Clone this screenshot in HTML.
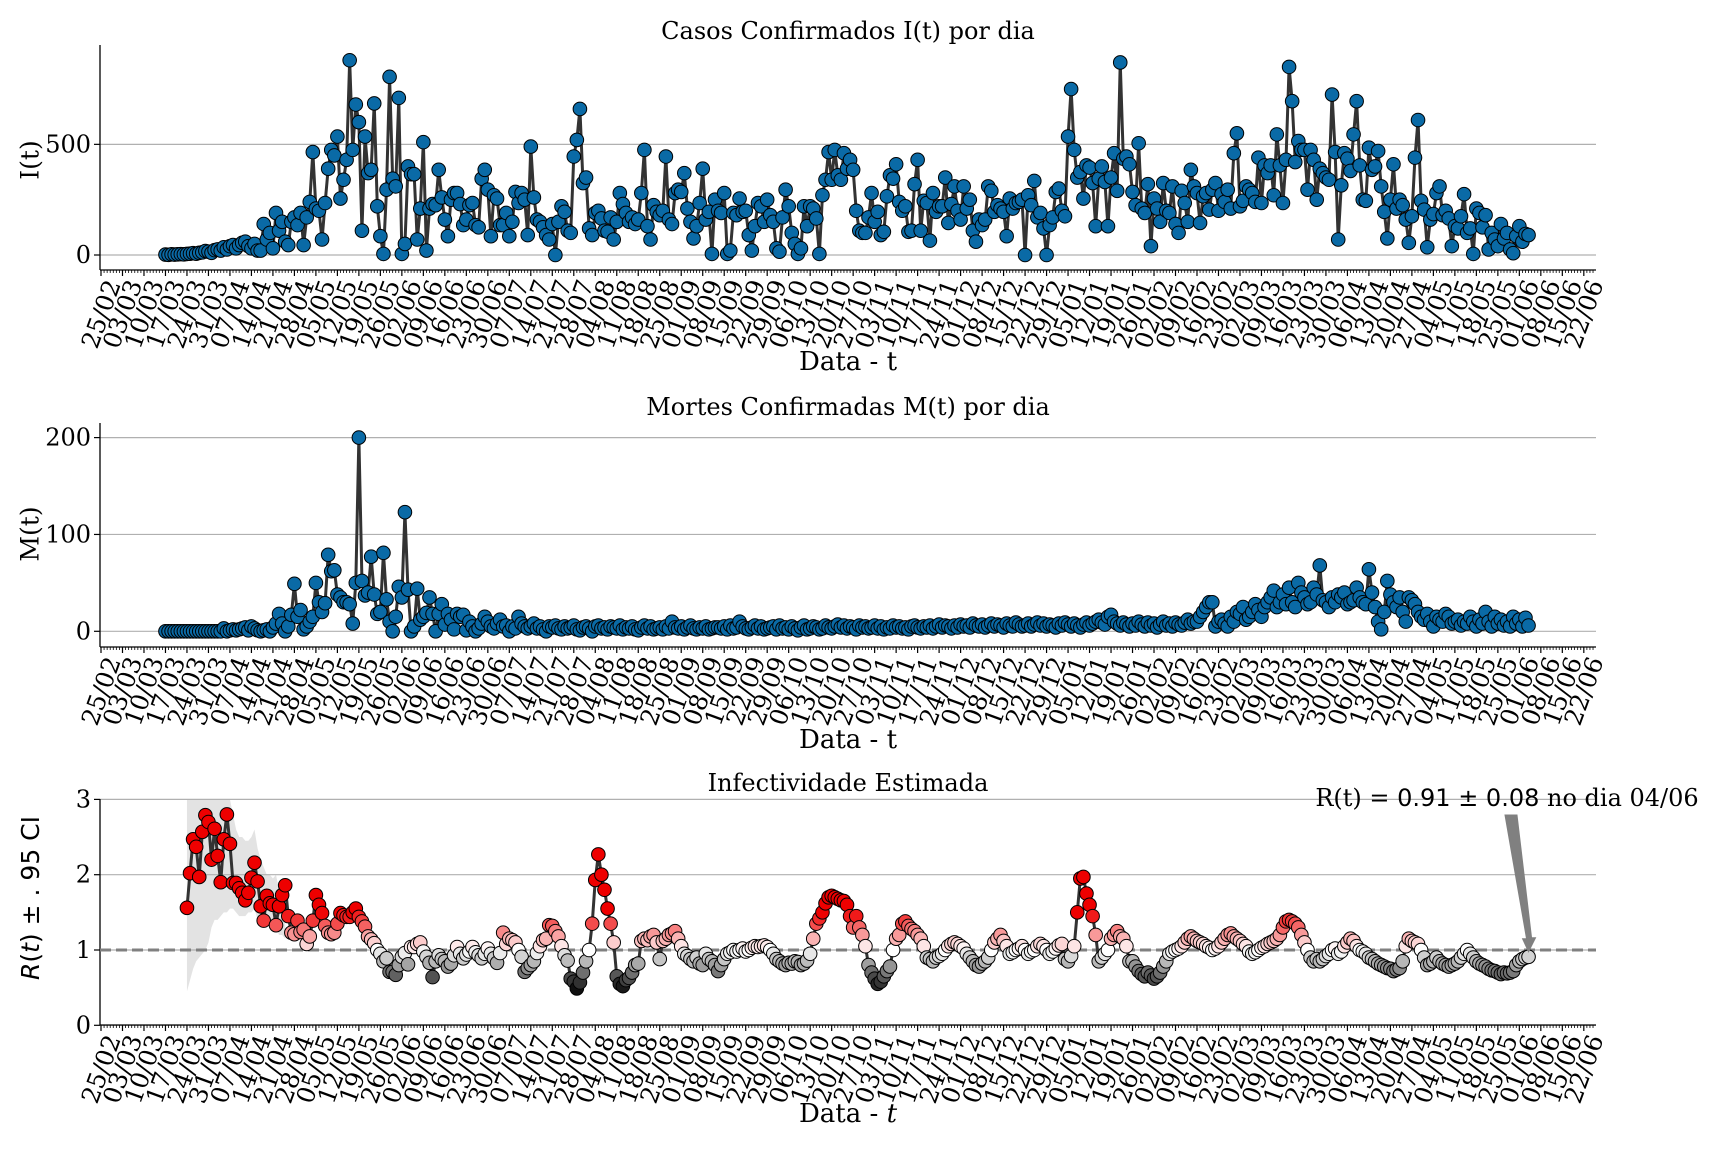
<!DOCTYPE html>
<html><head><meta charset="utf-8"><title>COVID chart</title>
<style>
html,body{margin:0;padding:0;background:#fff;}
svg{display:block;font-family:"DejaVu Serif","Liberation Serif",serif;}
</style></head>
<body>
<svg id="chart" width="1728" height="1152" viewBox="0 0 1728 1152" xmlns="http://www.w3.org/2000/svg">
<rect x="0" y="0" width="1728" height="1152" fill="#fff"/>
<g id="p1"></g>
<g id="p2"></g>
<g id="p3"></g>
</svg>
<script>
// ---------------- data ----------------
const baseDate = [2020, 1, 25];          // 25/02/2020 = day 0
const seriesStartDay = 21;               // 17/03/2020
const rStartDay = 28;                    // 24/03/2020
const ciStartDay = 28;

const casesValues = [
2,1,3,2,3,4,3,5,6,8, 6,10,12,18,15,10,22,25,20,35, 25,40,45,30,45,55,60,40,30,50,
20,20,140,70,100,30,190,110,150,60, 45,150,170,135,190,45,170,240,465,210, 200,70,235,390,475,450,535,255,340,430,
880,475,680,600,110,535,370,385,685,220, 85,5,295,805,345,310,710,5,50,400, 365,365,70,210,510,20,210,230,225,385, 260,
160,85,250,280,280,230,135,160,225,235, 135,125,345,385,295,85,270,255,135,135, 190,85,150,285,235,280,250,90,490,260,
160,150,125,90,70,140,0,150,220,195, 110,100,445,520,660,325,350,120,90,190, 200,165,110,105,170,70,150,280,230,190, 150,170,140,160,
280,475,
130,70,225,195,180,200,445,160,140,280, 295,285,370,210,150,75,130,235,390,160, 195,5,250,200,190,280,5,20,190,180,
255,195,200,90,20,130,235,220,150,250, 180,150, 30,15,170,295,220,100,50,5,30,220, 130,220,210,165,5,270,340,465,340,475,
360,340,460,390,430,385,200,110,100,100, 170,280,150,195,90,105,265,360,345,410, 240,200, 220,105,110,320,430,110,245,235,65,280,
195,220,220,350,145,230,310,200,160,310, 210,250,110,60,160,135,160,310,290,195, 225,210,195,85,255,210,235,240,250,0,
270,225,335,170,190,120,0,135,170,285, 300,200,175,535,750,475,350,375,255,405, 395,325,130,345,
400,330,130,350,460,290,870,435,445,410, 285,225,505,210,190,320,40,255,210,150, 325,200,190,310,140,100,290,235,150,385,
310,280,145,265,280,205,295,325,200,275, 240,295,210,460,550,220,245,310,295,280, 240,440,235,405,370,405,270,545,405,235,
430,850,695,420,515,475,475,295,475,430, 250,390,370,350,340,725,465,70,315,460, 435,380,545,695,405,250,245,485,385,400,
470,310,195,75,250,410,210,250,225,160, 55,175,440,610,245,205,35,160,185,280, 310,180,200,165,40,130,120,175,275,100,
120,5,210,190,125,180,25,100,70,40, 140,75,100,25,8,85,130,60,95,90
];

const deathsValues = [
0,0,0,0,0,0,0,0,0,0,0,0,0,0,0,0,0,0,0,3,0,1,2,1,2,3,4,1,5,3,1,0,1,2,
0,4,8,18,8,0,5,17,49,15,22,2,5,10,15,50,30,20,29,79,62,63,38,35,30,30,
28,8,50,200,52,37,40,77,38,18,20,81,33,10,0,15,46,35,123,43,0,5,44,12,15,19,35,18,0,18,
28,7,18,12,2,18,15,17,1,10,5,0,3,8,15,10,5,3,8,12,5,6,0,5,3,15,8,5,3,5,
8,3,5,2,0,5,4,6,3,2, 5,3,4,6,2,1,4,5,3,0, 5,6,3,4,2,5,4,3,6,2, 4,3,5,2,1,4,6,3,5,2, 3,4,2,5,3,10,4,3,5,2, 4,6,3,2,4,3,5,2,3,4,
4,3,5,2,6,3,4,10,5,3, 2,4,6,3,5,2,3,4,5,2, 6,3,4,2,5,3,1,4,6,2, 3,5,4,2,3,6,4,3,5,7, 4,6,3,5,4,2,6,4,5,3,
4,6,3,5,2,4,3,6,4,5, 3,4,2,5,6,4,3,5,4,6, 3,5,7,4,6,5,3,6,4,7, 5,6,4,8,6,5,7,4,6,8, 5,7,6,4,8,6,5,9,7,5,
6,8,5,7,9,6,8,5,7,6, 4,8,6,9,7,5,8,6,4,7, 9,6,8,10,12,9,7,15,17,10, 8,6,9,7,5,8,6,10,7,5, 9,6,8,4,7,10,6,8,5,9, 7,6,9,12,8,10,
10,15,20,25,30,30,5,10,12,8,5,15,10,20,18,25,12,15,20,28,22,15,25,30,
35,42,25,30,38,28,45,30,25,50, 40,35,28,30,45,38,68,32,30,25, 35,30,38,35,40,28,30,32,45,35, 30,28,64,40,25,10,2,20,52,38,
30,25,35,20,10,35,32,28,20,15, 12,18,10,5,15,12,10,18,15,8, 10,12,6,10,8,15,10,5,12,8, 20,10,5,15,8,12,6,10,5,15, 8,12,5,14,6
];

const rValues = [
1.56,2.02,2.47,2.37,1.97,2.57,2.79,2.70,2.20,2.61,
2.25,1.90,2.47,2.80,2.41,1.89,1.89,1.82,1.76,1.66,
1.76,1.96,2.16,1.91,1.58,1.39,1.72,1.62,1.60,1.33,
1.58,1.73,1.86,1.45,1.23,1.21,1.39,1.24,1.27,1.08,
1.18,1.39,1.73,1.60,1.49,1.32,1.23,1.21,1.23,1.35,
1.49,1.46,1.44,1.44,1.50,1.55,1.44,1.38,1.31,1.18,
1.14,1.09,1.00,0.95,0.85,0.89,0.71,0.71,0.67,0.80,
0.91,0.96,0.81,1.04,1.04,1.08,1.10,0.98,0.91,0.83,
0.64,0.85,0.93,0.88,0.85,0.78,0.82,0.93,1.04,0.95,
0.89,0.94,0.98,1.04,0.97,0.93,0.89,0.95,1.02,0.95,
0.89,0.83,0.96,1.23,1.08,1.15,1.13,1.10,1.00,0.91,
0.71,0.76,0.80,0.85,0.96,1.05,1.13,1.15,1.33,1.32,
1.25,1.18,1.05,0.93,0.86,0.62,0.58,0.49,0.57,0.70,
0.85,1.00,1.35,
1.93,2.27,2.00,1.80,1.55,1.35,1.10,
0.65,0.55,0.52,0.60,0.63,0.70,0.80,0.82,
1.12,1.15,1.13,1.18,1.20,1.10,0.88,1.12,1.15,1.20,
1.22,1.25,1.15,1.05,0.95,0.92,0.88,0.85,0.90,0.82,
0.80,0.95,0.88,0.85,0.80,0.72,0.80,0.88,0.95,0.97,
1.00,0.98,1.00,1.02,0.98,1.00,1.03,1.05,1.04,1.05,
1.06,1.04,1.00,0.95,0.88,0.85,0.82,0.80,0.83,0.82,
0.85,0.84,0.80,0.82,0.86,0.95,1.15,1.35,1.42,1.50,
1.62,1.70,1.72,1.70,1.68,1.66,1.65,1.60,1.45,1.30,
1.45,1.30,1.20,1.05,0.80,0.70,0.62,0.55,0.58,0.65,
0.72,0.78,1.00,1.15,1.20,1.35,1.38,1.32,1.28,1.25,
1.20,1.15,1.05,0.90,0.88,0.85,0.90,0.92,0.95,1.00,
1.05,1.08,1.10,1.08,1.05,1.02,0.95,0.90,0.85,0.80,
0.78,0.82,0.85,0.90,1.00,1.10,1.15,1.20,1.12,1.05,
0.95,0.97,1.00,1.02,1.05,1.00,0.95,0.98,1.00,1.05,
1.08,1.05,1.00,0.95,0.98,1.02,1.06,1.08,0.88,0.85,
0.92,1.05,1.50,1.95,1.97,1.75,1.60,1.45,1.20,0.85,
0.90,0.95,1.00,1.15,1.20,1.25,1.18,1.15,1.05,0.85,
0.85,0.78,0.72,0.68,0.65,0.70,0.66,0.62,0.65,0.70,
0.78,0.85,0.95,0.98,1.00,1.02,1.05,1.10,1.15,1.18,
1.15,1.12,1.10,1.08,1.05,1.03,1.00,1.02,1.05,1.10,
1.15,1.20,1.22,1.18,1.15,1.12,1.08,1.05,0.98,0.95,
0.97,1.00,1.03,1.05,1.08,1.10,1.12,1.15,1.20,1.30,
1.38,1.40,1.38,1.35,1.30,1.20,1.10,1.00,0.90,0.85,
0.88,0.85,0.88,0.92,0.95,1.00,1.02,0.95,0.98,1.05,
1.10,1.15,1.12,1.05,1.00,0.98,0.95,0.90,0.88,0.85,
0.82,0.80,0.78,0.76,0.75,0.72,0.74,0.76,0.85,1.05,
1.15,1.12,1.10,1.08,1.00,0.90,0.80,0.82,0.85,0.90,
0.85,0.82,0.80,0.78,0.80,0.82,0.85,0.90,0.95,1.00,
0.95,0.90,0.85,0.82,0.80,0.78,0.75,0.73,0.72,0.70,
0.68,0.70,0.69,0.70,0.72,0.80,0.85,0.88,0.90,0.91
];

const ciLow = [0.45,0.6,0.75,0.85,0.9,0.95,1.0,1.1,1.3,1.4,1.4,1.45,1.5,1.5,1.55,1.55,1.5,1.45,1.45,1.45,1.5,1.5,1.55,1.4,1.3,1.4,1.35,1.3,1.3,1.3,1.2,1.2,1.15];
const ciHigh = [3,3,3,3,3,3,3,3,3,3,3,3,3,3,3,2.8,2.6,2.5,2.5,2.45,2.45,2.5,2.6,2.35,2.2,2.1,2.0,2.0,1.95,2.0,1.8,1.7,1.6];

const casesTicks = [0, 500];
const deathsTicks = [0, 100, 200];
const rTicks = [0, 1, 2, 3];
const annotText = "no dia 04/06";
const annotValue = "R(t) = 0.91 ± 0.08";

// ---------------- helpers ----------------
const NS = "http://www.w3.org/2000/svg";
function mk(tag, attrs, parent) {
  const e = document.createElementNS(NS, tag);
  for (const k in attrs) e.setAttribute(k, attrs[k]);
  if (parent) parent.appendChild(e);
  return e;
}
const X0 = 101, XPD = 3.07, XL = 100, XR = 1596, XMAXDAY = 486;
function xPx(d) { return X0 + d * XPD; }
function makeY(y0, k) { return v => y0 - v * k; }

const panels = [
  {g: 'p1', y: makeY(255, 0.2213), top: 45, bot: 270, ticks: casesTicks, title: 'Casos Confirmados I(t) por dia', titleY: 31, ylab: 'I(t)', ylabY: 160, xlabY: 362},
  {g: 'p2', y: makeY(631.3, 0.9685), top: 423, bot: 647, ticks: deathsTicks, title: 'Mortes Confirmadas M(t) por dia', titleY: 407, ylab: 'M(t)', ylabY: 534, xlabY: 740},
  {g: 'p3', y: makeY(1025.3, 75.3), top: 799, bot: 1025, ticks: rTicks, title: 'Infectividade Estimada', titleY: 783, ylab: null, ylabY: 898, xlabY: 1114}
];

function dateLabel(d) {
  const dt = new Date(baseDate[0], baseDate[1], baseDate[2] + d);
  const dd = String(dt.getDate()).padStart(2, '0');
  const mm = String(dt.getMonth() + 1).padStart(2, '0');
  return dd + '/' + mm;
}

function drawAxes(p) {
  const g = document.getElementById(p.g);
  p.ticks.forEach(t => {
    const yy = p.y(t);
    const gl = mk('line', {x1: XL, x2: XR, y1: yy, y2: yy, stroke: '#b0b0b0', 'stroke-width': 1.2}, g);
    
    
    const tk = mk('line', {x1: XL - 6, x2: XL, y1: yy, y2: yy, stroke: '#000', 'stroke-width': 1.2}, g);
    
    
    const tl = mk('text', {x: XL - 9, y: yy, 'text-anchor': 'end', 'dominant-baseline': 'central', 'font-size': 24, fill: '#000'}, g);
    tl.textContent = String(t);
    
    
  });
  const sl = mk('line', {x1: XL, x2: XL, y1: p.top, y2: p.bot, stroke: '#000', 'stroke-width': 1.3}, g);
  
  
  const sb = mk('line', {x1: XL, x2: XR, y1: p.bot, y2: p.bot, stroke: '#000', 'stroke-width': 1.3}, g);
  
  
  for (let d = 0; d <= XMAXDAY; d++) {
    const major = d % 7 === 0;
    const xx = xPx(d);
    const t = mk('line', {x1: xx, x2: xx, y1: p.bot, y2: p.bot + (major ? 6 : 3), stroke: '#000', 'stroke-width': major ? 1.2 : 0.8}, g);
    
    
    if (major) {
      const cy = p.bot + 44;
      const lbl = mk('text', {x: xx, y: cy, 'text-anchor': 'middle', 'dominant-baseline': 'central', 'font-size': 24.5, fill: '#000', transform: 'rotate(-70 ' + xx + ' ' + cy + ')'}, g);
      lbl.textContent = dateLabel(d);
      
      
    }
  }
  const tt = mk('text', {x: (XL + XR) / 2, y: p.titleY, 'text-anchor': 'middle', 'dominant-baseline': 'central', 'font-size': 24, fill: '#000'}, g);
  tt.textContent = p.title;
  
  
  const xl = mk('text', {x: (XL + XR) / 2, y: p.xlabY, 'text-anchor': 'middle', 'dominant-baseline': 'central', 'font-size': 26, fill: '#000'}, g);
  if (p.g === 'p3') {
    xl.textContent = 'Data - ';
    const it = mk('tspan', {'font-style': 'italic'}, xl);
    it.textContent = 't';
  } else {
    xl.textContent = 'Data - t';
  }
  
  
  const yl = mk('text', {x: 30, y: p.ylabY, 'text-anchor': 'middle', 'dominant-baseline': 'central', 'font-size': 25, fill: '#000', transform: 'rotate(-90 30 ' + p.ylabY + ')'}, g);
  if (p.ylab) {
    yl.textContent = p.ylab;
  } else {
    const a = mk('tspan', {'font-style': 'italic', 'font-family': 'DejaVu Sans, sans-serif'}, yl); a.textContent = 'R';
    const b = mk('tspan', {'font-family': 'DejaVu Sans, sans-serif'}, yl); b.textContent = '(';
    const c = mk('tspan', {'font-style': 'italic', 'font-family': 'DejaVu Sans, sans-serif'}, yl); c.textContent = 't';
    const e = mk('tspan', {'font-family': 'DejaVu Sans, sans-serif'}, yl); e.textContent = ') ± . 95 CI';
  }
  
  
  return g;
}

function drawSeries(g, p, values, startDay, colorFn, name) {
  const pts = values.map((v, i) => xPx(startDay + i).toFixed(2) + ',' + p.y(v).toFixed(2)).join(' ');
  const line = mk('polyline', {points: pts, fill: 'none', stroke: '#333', 'stroke-width': 3, 'stroke-linejoin': 'round'}, g);
  
  
  values.forEach((v, i) => {
    const c = mk('circle', {cx: xPx(startDay + i), cy: p.y(v), r: 6.8, fill: colorFn(v), stroke: '#000', 'stroke-width': 1}, g);
    
    
  });
}

function rColor(v) {
  if (v >= 1) {
    const t = Math.min(1, (v - 1) / 0.5);
    const r = Math.round(255 + (238 - 255) * t), gg = Math.round(255 * (1 - t)), b = Math.round(255 * (1 - t));
    return 'rgb(' + r + ',' + gg + ',' + b + ')';
  } else {
    const t = Math.min(1, (1 - v) / 0.5);
    const c = Math.round(255 + (15 - 255) * t);
    return 'rgb(' + c + ',' + c + ',' + c + ')';
  }
}

const g1 = drawAxes(panels[0]);
drawSeries(g1, panels[0], casesValues, seriesStartDay, () => '#0a6aa6', 'cases');
const g2 = drawAxes(panels[1]);
drawSeries(g2, panels[1], deathsValues, seriesStartDay, () => '#0a6aa6', 'deaths');
const p3 = panels[2];
const g3 = document.getElementById('p3');
{
  const up = ciHigh.map((v, i) => xPx(ciStartDay + i).toFixed(2) + ',' + p3.y(Math.min(3, v)).toFixed(2));
  const lo = ciLow.map((v, i) => xPx(ciStartDay + i).toFixed(2) + ',' + p3.y(v).toFixed(2)).reverse();
  const band = mk('polygon', {points: up.concat(lo).join(' '), fill: '#e3e3e3', stroke: 'none'}, g3);
  
  
}
drawAxes(p3);
{
  const yy = p3.y(1);
  const dl = mk('line', {x1: XL, x2: XR, y1: yy, y2: yy, stroke: '#808080', 'stroke-width': 3, 'stroke-dasharray': '11,5'}, g3);
  
  
}
drawSeries(g3, p3, rValues, rStartDay, rColor, 'rt');
{
  const lastIdx = rValues.length - 1;
  const tx = xPx(rStartDay + lastIdx), ty = p3.y(rValues[lastIdx]) - 5;
  const sx = 1511, sy = 815;
  const arrow = mk('polygon', {points: (sx - 6) + ',' + sy + ' ' + (sx + 6) + ',' + sy + ' ' + (tx + 3) + ',' + (ty - 14) + ' ' + (tx + 7) + ',' + (ty - 14) + ' ' + tx + ',' + ty + ' ' + (tx - 6) + ',' + (ty - 13) + ' ' + (tx - 2) + ',' + (ty - 13), fill: '#808080', stroke: '#808080', 'stroke-width': 1}, g3);
  
  
  const at = mk('text', {x: 1507, y: 798, 'text-anchor': 'middle', 'dominant-baseline': 'central', 'font-size': 24, fill: '#000'}, g3);
  const s1 = mk('tspan', {}, at); s1.textContent = 'R(t) = ';
  const s2 = mk('tspan', {'font-family': 'DejaVu Sans, sans-serif'}, at); s2.textContent = '0.91 ± 0.08';
  const s3 = mk('tspan', {}, at); s3.textContent = ' ' + annotText;
  
  
}
</script>
</body></html>
